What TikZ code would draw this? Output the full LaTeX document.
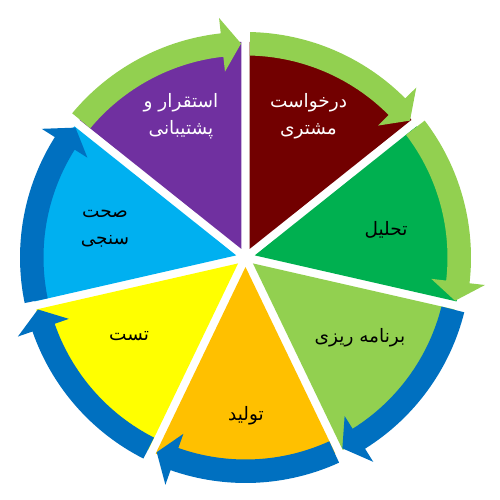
\documentclass[tikz,border=0pt]{standalone}
\usepackage{fontspec}
\newfontfamily\arabicfont[Script=Arabic]{DejaVu Sans}
\TeXXeTstate=1
\definecolor{cMaroon}{HTML}{720000}
\definecolor{cGreen}{HTML}{00B050}
\definecolor{cLime}{HTML}{92D050}
\definecolor{cOrange}{HTML}{FFC000}
\definecolor{cYellow}{HTML}{FFFF00}
\definecolor{cSky}{HTML}{00B0F0}
\definecolor{cPurple}{HTML}{7030A0}
\definecolor{aGreen}{HTML}{92D050}
\definecolor{aBlue}{HTML}{0070C0}
\begin{document}
\begin{tikzpicture}[x=1pt,y=1pt,
  lbl/.style={font=\arabicfont\fontsize{18.5}{27}\selectfont, align=center, inner sep=0pt},
  wlbl/.style={lbl, text=white},
  blbl/.style={lbl, text=black}]
\useasboundingbox (-245.5,-242.5) rectangle (254.5,257.5);
% wedges
\foreach \k/\c in {0/cMaroon,1/cGreen,2/cLime,3/cOrange,4/cYellow,5/cSky,6/cPurple}{
  \pgfmathsetmacro\wS{90-\k*360/7}
  \pgfmathsetmacro\wE{90-(\k+1)*360/7}
  \pgfmathsetmacro\wB{90-(\k+0.5)*360/7}
  \fill[\c] (\wB:9.5) -- ++(\wS:207) arc[start angle=\wS, end angle=\wE, radius=207] -- cycle;
}
% arrows
\foreach \k/\c in {0/aGreen,1/aGreen,2/aBlue,3/aBlue,4/aBlue,5/aBlue,6/aGreen}{
  \pgfmathsetmacro\aS{90-\k*360/7-1.2}
  \pgfmathsetmacro\aT{90-(\k+1)*360/7+1.2}
  \pgfmathsetmacro\aB{\aT+5.1}
  \fill[\c] (\aS:225.5) arc[start angle=\aS, end angle=\aB, radius=225.5] -- (\aB:241) -- (\aT:214) -- (\aB:187) -- (\aB:202) arc[start angle=\aB, end angle=\aS, radius=202] -- cycle;
}
% labels
\node[wlbl] (request) at (63,141.5) {\beginR درخواست\endR\\\beginR مشتری\endR};
\node[wlbl] (deploy) at (-64.5,141.5) {\beginR استقرار و\endR\\\beginR پشتیبانی\endR};
\node[blbl] (verify) at (-140.5,28.5) {\beginR صحت\endR\\\beginR سنجی\endR};
\node[blbl] (analysis) at (140.5,27.5) {\beginR تحلیل\endR};
\node[blbl] (planning) at (114.5,-80.5) {\beginR برنامه ریزی\endR};
\node[blbl] (produce) at (0.5,-158.5) {\beginR تولید\endR};
\node[blbl] (test) at (-116.5,-78.5) {\beginR تست\endR};
\end{tikzpicture}
\end{document}
